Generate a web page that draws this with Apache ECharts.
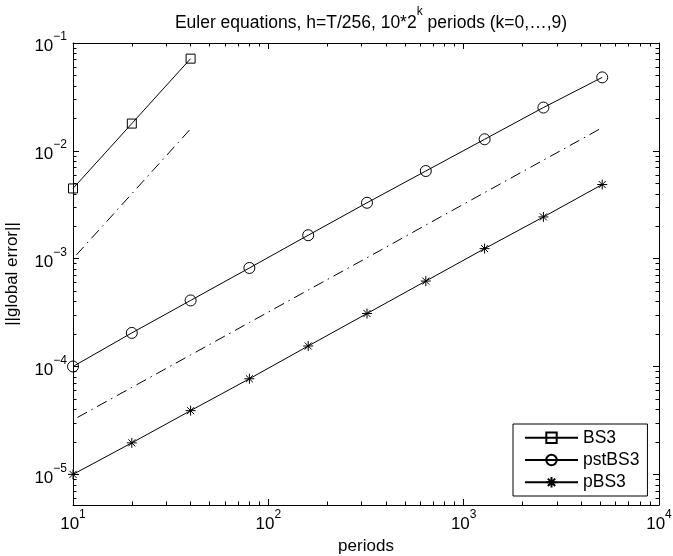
<!DOCTYPE html>
<html><head><meta charset="utf-8">
<script src="https://cdn.jsdelivr.net/npm/echarts@6/dist/echarts.min.js"></script>
<style>html,body{margin:0;padding:0;background:#fff}#c{width:673px;height:556px}</style>
</head><body><div id="c"></div>
<script>
// ---- data ----
const periods = [10, 20, 40, 80, 160, 320, 640, 1280, 2560, 5120];
const bs3 = [4.48e-3, 1.79e-2, 7.16e-2];
const pstBS3 = [1.0e-4, 2.05e-4, 4.1e-4, 8.2e-4, 1.65e-3, 3.3e-3, 6.5e-3, 1.28e-2, 2.52e-2, 4.8e-2];
const pBS3 = [1.0e-5, 1.96e-5, 3.9e-5, 7.7e-5, 1.55e-4, 3.1e-4, 6.2e-4, 1.24e-3, 2.44e-3, 4.87e-3];
const refSlope2 = [1.0e-3, 4.0e-3, 1.6e-2];
const refSlope1 = [3.2e-5, 6.4e-5, 1.28e-4, 2.56e-4, 5.12e-4, 1.02e-3, 2.05e-3, 4.1e-3, 8.2e-3, 1.64e-2];
const xTickExps = [1, 2, 3, 4];
const yTickExps = [-5, -4, -3, -2, -1];
const xRange = [10, 1e4];
const yRange = [5.2e-6, 1e-1];
const titleMain = 'Euler equations, h=T/256, 10*2';
const titleSup = 'k';
const titleRest = ' periods (k=0,…,9)';
const legendNames = ['BS3', 'pstBS3', 'pBS3'];
const xName = 'periods';
const yName = '||global error||';

// ---- helpers ----
const L = Math.log10;
const xMin = L(xRange[0]), xMax = L(xRange[1]);
const yMin = L(yRange[0]), yMax = L(yRange[1]);
function minors(lo, hi) {
  const out = [];
  for (let e = Math.floor(lo) - 1; e <= Math.ceil(hi); e++) {
    for (let k = 2; k <= 9; k++) {
      const v = e + L(k);
      if (v > lo + 1e-9 && v < hi - 1e-9) out.push(v);
    }
  }
  return out;
}
const xMinor = minors(xMin, xMax);
const yMinor = minors(yMin, yMax);
function pts(xs, ys) { return ys.map((y, i) => [L(xs[i]), L(y)]); }
const FONT = 'Liberation Sans, Arial, Helvetica, sans-serif';
const sup = v => '{b|10}{s|' + String(v).replace('-', '\u2212') + '}';
const rich = {
  b: { fontSize: 17, fontFamily: FONT, color: '#000', lineHeight: 24, verticalAlign: 'bottom' },
  s: { fontSize: 12, fontFamily: FONT, color: '#000', lineHeight: 11, verticalAlign: 'top' }
};

function mkAxis(pos, min, max, values, len, showLine, label, margin) {
  return {
    type: 'value', position: pos, min: min, max: max,
    axisLine: { show: showLine, onZero: false, lineStyle: { color: '#000', width: 1 } },
    axisTick: { show: true, inside: true, length: len, customValues: values, lineStyle: { color: '#000', width: 1 } },
    axisLabel: label ? { show: true, customValues: values, formatter: sup, rich: rich, margin: margin } : { show: false },
    splitLine: { show: false },
    minorTick: { show: false }
  };
}

const NAMESTYLE = { fontSize: 17, fontFamily: FONT, color: '#000' };
const xAxes = [
  Object.assign(mkAxis('bottom', xMin, xMax, xTickExps, 6, true, true, 4), {
    name: xName, nameLocation: 'middle', nameGap: 33, nameTextStyle: NAMESTYLE
  }),
  mkAxis('bottom', xMin, xMax, xMinor, 3.5, false, false),
  mkAxis('top', xMin, xMax, xTickExps, 6, true, false),
  mkAxis('top', xMin, xMax, xMinor, 3.5, false, false)
];
const yAxes = [
  Object.assign(mkAxis('left', yMin, yMax, yTickExps, 6, true, true, 6), {
    name: yName, nameLocation: 'middle', nameGap: 52, nameTextStyle: NAMESTYLE
  }),
  mkAxis('left', yMin, yMax, yMinor, 3.5, false, false),
  mkAxis('right', yMin, yMax, yTickExps, 6, true, false),
  mkAxis('right', yMin, yMax, yMinor, 3.5, false, false)
];

const starPath = 'path://M0,-10L0,10M-10,0L10,0M-7.07,-7.07L7.07,7.07M-7.07,7.07L7.07,-7.07';
const hollow = { color: 'rgba(0,0,0,0)', borderColor: '#000', borderWidth: 1 };
const solidLine = { color: '#000', width: 1, type: 'solid' };
const dashDot = { color: '#000', width: 1, type: [11, 5, 1.5, 5], dashOffset: 17.5 };

const series = [
  { name: legendNames[0], type: 'line', data: pts(periods, bs3), symbol: 'rect', symbolSize: 9,
    itemStyle: hollow, lineStyle: solidLine, clip: false, z: 3 },
  { name: legendNames[1], type: 'line', data: pts(periods, pstBS3), symbol: 'circle', symbolSize: 11,
    itemStyle: hollow, lineStyle: solidLine, clip: false, z: 3 },
  { name: legendNames[2], type: 'line', data: pts(periods, pBS3), symbol: starPath, symbolSize: 10,
    itemStyle: hollow, lineStyle: solidLine, clip: false, z: 3 },
  { name: 'ref2', type: 'line', data: pts(periods, refSlope2), symbol: 'none', lineStyle: dashDot, z: 2 },
  { name: 'ref1', type: 'line', data: pts(periods, refSlope1), symbol: 'none', lineStyle: dashDot, z: 2 }
].map(s => Object.assign(s, { xAxisIndex: 0, yAxisIndex: 0, animation: false, silent: true, emphasis: { disabled: true } }));

const chart = echarts.init(document.getElementById('c'), null, { renderer: 'canvas' });
chart.setOption({
  backgroundColor: '#fff',
  animation: false,
  title: {
    text: '{a|' + titleMain + '}{k|' + titleSup + '}{a|' + titleRest + '}',
    left: 366, top: 1, textAlign: 'center',
    textStyle: { fontWeight: 'normal', rich: {
      a: { fontSize: 17.5, fontWeight: 'normal', fontFamily: FONT, color: '#000', lineHeight: 26, verticalAlign: 'bottom' },
      k: { fontSize: 12, fontWeight: 'normal', fontFamily: FONT, color: '#000', lineHeight: 12, verticalAlign: 'top' }
    } }
  },
  grid: { left: 73, right: 14, top: 43, bottom: 51, containLabel: false, outerBoundsMode: 'none' },
  xAxis: xAxes,
  yAxis: yAxes,
  legend: {
    data: legendNames, orient: 'vertical', left: 513, top: 424,
    itemWidth: 53, itemHeight: 13, itemGap: 2.3,
    padding: [3.7, 8, 3.7, 11],
    borderColor: '#000', borderWidth: 1, backgroundColor: '#fff', borderRadius: 0,
    textStyle: { fontSize: 17.5, fontFamily: FONT, color: '#000', lineHeight: 20 },
    selectedMode: false
  },
  series: series
});
</script></body></html>
